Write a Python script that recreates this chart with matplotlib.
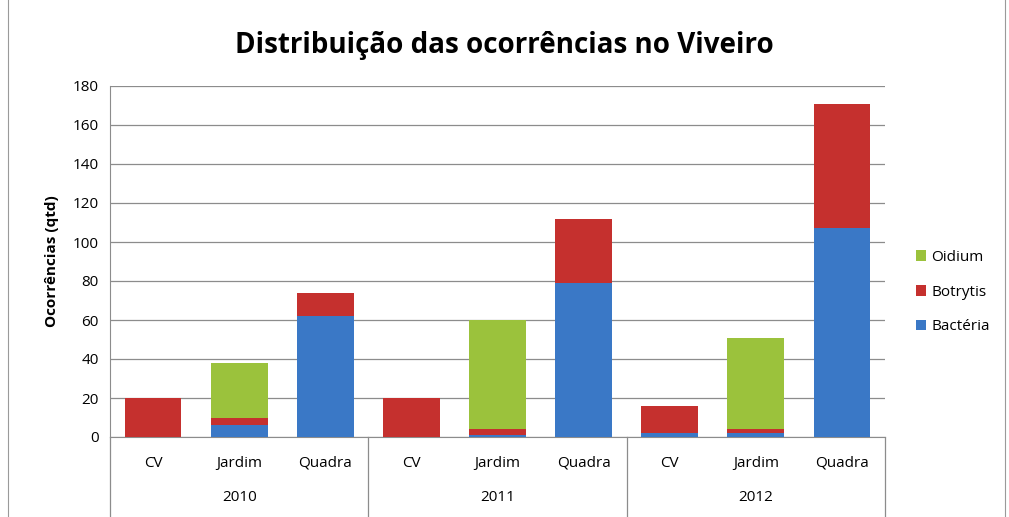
import numpy as np
import matplotlib.pyplot as plt
from matplotlib.transforms import blended_transform_factory

plt.rcParams['font.family'] = ['Open Sans', 'DejaVu Sans']

years = ['2010', '2011', '2012']
places = ['CV', 'Jardim', 'Quadra']
bacteria = [0, 6, 62, 0, 1, 79, 2, 2, 107]
botrytis = [20, 4, 12, 20, 3, 33, 14, 2, 64]
oidium = [0, 28, 0, 0, 56, 0, 0, 47, 0]

c_bac = '#3A78C6'
c_bot = '#C5302E'
c_oid = '#9BC23C'

fig = plt.figure(figsize=(10.09, 5.17), dpi=100)
ax = fig.add_axes([110 / 1009, 80 / 517, 775 / 1009, 351 / 517])

x = np.arange(len(bacteria))
b1 = np.array(bacteria)
b2 = b1 + np.array(botrytis)
w = 0.66
ax.bar(x, bacteria, w, color=c_bac, linewidth=0, label='Bactéria', zorder=3)
ax.bar(x, botrytis, w, bottom=b1, color=c_bot, linewidth=0, label='Botrytis', zorder=3)
ax.bar(x, oidium, w, bottom=b2, color=c_oid, linewidth=0, label='Oidium', zorder=3)

ax.set_xlim(-0.5, 8.5)
ax.set_ylim(0, 180)
ax.set_yticks(range(0, 181, 20))
ax.tick_params(axis='y', labelsize=11, length=0, pad=8)
ax.yaxis.grid(True, color='#8C8C8C', linewidth=0.9)
ax.set_axisbelow(True)
ax.set_xticks([])
for s in ['top', 'right']:
    ax.spines[s].set_visible(False)
ax.spines['left'].set_color('#8C8C8C')
ax.spines['bottom'].set_color('#8C8C8C')
ax.set_ylabel('Ocorrências (qtd)', fontsize=11, fontweight='bold', labelpad=10)

tr = blended_transform_factory(ax.transData, ax.transAxes)
for i in range(len(bacteria)):
    ax.text(i, -0.075, places[i % 3], transform=tr, ha='center', va='center', fontsize=11)
for j, yr in enumerate(years):
    ax.text(3 * j + 1, -0.172, yr, transform=tr, ha='center', va='center', fontsize=11)
for sx in [-0.5, 2.5, 5.5, 8.5]:
    ax.plot([sx, sx], [0, -0.23], transform=tr, color='#8C8C8C', linewidth=0.9, clip_on=False)

fig.text(0.5, 1 - 46 / 517, 'Distribuição das ocorrências no Viveiro', ha='center', va='center',
         fontsize=20, fontweight='bold')

h, l = ax.get_legend_handles_labels()
fig.legend(h[::-1], l[::-1], loc='center left', bbox_to_anchor=(902 / 1009, 1 - 292 / 517),
           frameon=False, fontsize=11, handlelength=0.7, handleheight=0.7, handletextpad=0.3,
           labelspacing=1.3)

fig.patches.append(plt.Rectangle((8 / 1009, -0.01), 1 - 12 / 1009, 1.2, transform=fig.transFigure,
                                 fill=False, edgecolor='#9A9A9A', linewidth=0.8))

fig.savefig('out.png', dpi=100)
